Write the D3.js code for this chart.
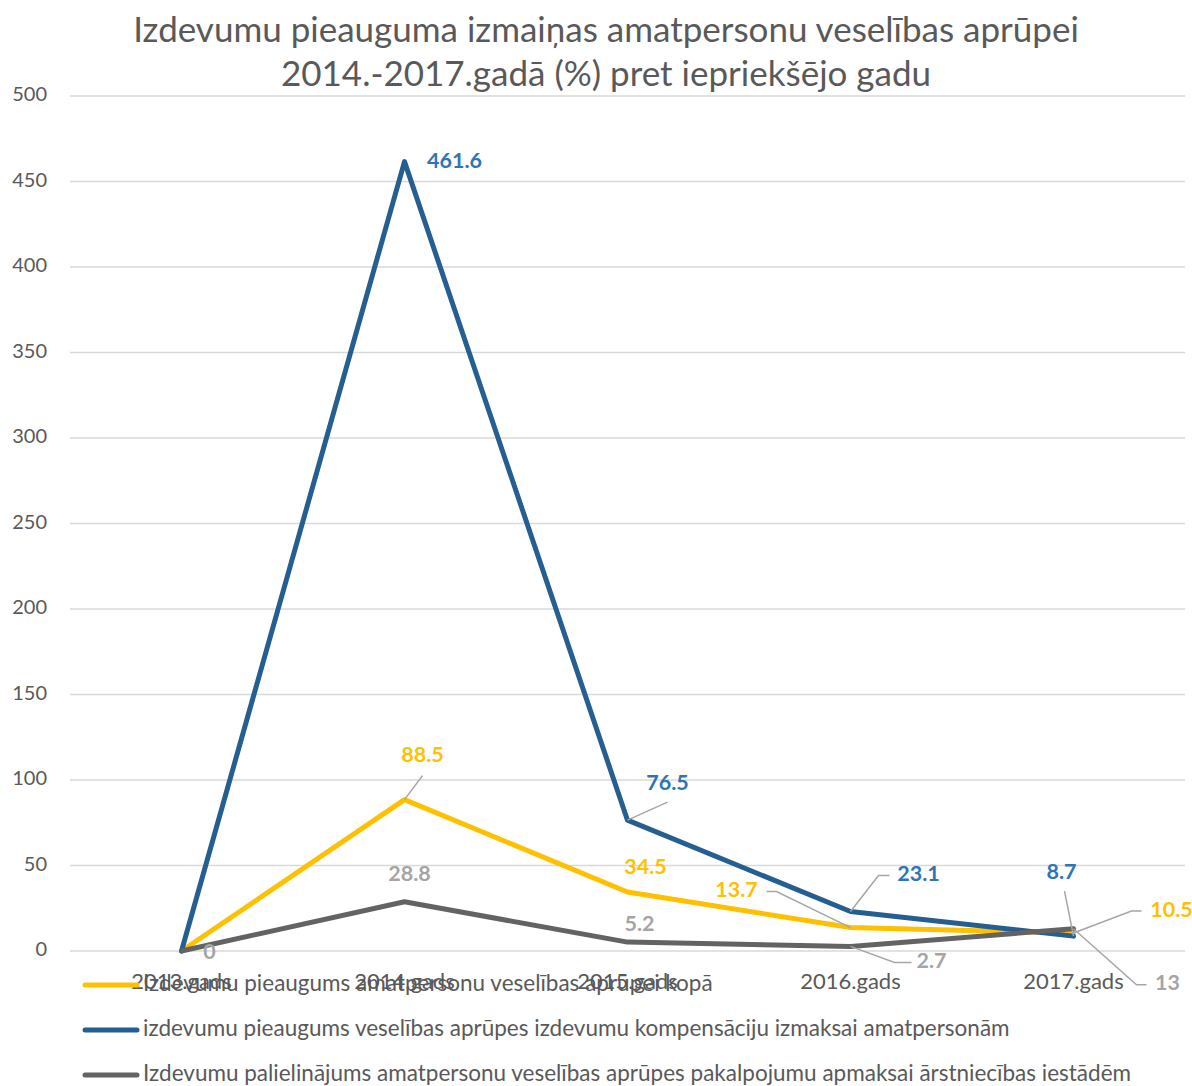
<!DOCTYPE html>
<html>
<head>
<meta charset="utf-8">
<script src="https://cdn.jsdelivr.net/npm/d3@7"></script>
<style>
  body { margin: 0; background: #fff; }
  text { font-family: Lato, "Open Sans", sans-serif; }
</style>
</head>
<body>
<svg class="chart"></svg>
<script>
var categories = ['2013.gads', '2014.gads', '2015.gads', '2016.gads', '2017.gads'];
var seriesNames = [
  'Izdevumu pieaugums amatpersonu veselības aprūpei kopā',
  'izdevumu pieaugums veselības aprūpes izdevumu kompensāciju izmaksai amatpersonām',
  'Izdevumu palielinājums amatpersonu veselības aprūpes pakalpojumu apmaksai ārstniecības iestādēm'
];
var totalValues = [0, 88.5, 34.5, 13.7, 10.5];
var compensationValues = [0, 461.6, 76.5, 23.1, 8.7];
var clinicValues = [0, 28.8, 5.2, 2.7, 13];
var yTicks = [0, 50, 100, 150, 200, 250, 300, 350, 400, 450, 500];
var titleLines = ['Izdevumu pieauguma izmaiņas amatpersonu veselības aprūpei',
                  '2014.-2017.gadā (%) pret iepriekšējo gadu'];

var lineColors = ['#FFC000', '#255E91', '#636363'];
var labelColors = ['#FFC000', '#2E75B6', '#A5A5A5'];

// label offsets from the point (dx, dy); null = no label shown
// leader: elbow of the leader line, end: where it stops next to the label
var labelLayout = [
  [null, {dx: 18, dy: -43, leader: [18, -24]}, {dx: 18, dy: -24}, {dx: -114, dy: -36, leader: [-74, -36], end: [-84, -36]}, {dx: 98, dy: -22, leader: [58, -22], end: [68, -22]}],
  [null, {dx: 50, dy: 1}, {dx: 40, dy: -36, leader: [40, -18]}, {dx: 68, dy: -36, leader: [28, -36], end: [39, -36]}, {dx: -12, dy: -63, leader: [-9, -45]}],
  [{dx: 28, dy: 2}, {dx: 5, dy: -26}, {dx: 12, dy: -17}, {dx: 81, dy: 16, leader: [44, 16], end: [61, 16]}, {dx: 94, dy: 56, leader: [63, 56], end: [73, 56]}]
];

var width = 1192;
var height = 1086;

var svg = d3.select('.chart').attr('width', width).attr('height', height);

var x = d3.scalePoint().domain(categories).range([70, 1185]).padding(0.5);
var y = d3.scaleLinear().domain([0, 500]).range([951, 96]);

// title
svg.selectAll('text.title')
    .data(titleLines)
    .join('text')
    .attr('class', 'title')
    .attr('x', 606)
    .attr('y', (d, i) => 33 + i * 44)
    .attr('text-anchor', 'middle')
    .attr('dominant-baseline', 'middle')
    .style('font-size', '35px')
    .style('fill', '#595959')
    .text(d => d);

// gridlines + y labels
svg.selectAll('line.grid')
    .data(yTicks)
    .join('line')
    .attr('class', 'grid')
    .attr('x1', 70).attr('x2', 1185)
    .attr('y1', d => y(d)).attr('y2', d => y(d))
    .style('stroke', '#D9D9D9')
    .style('stroke-width', 1.5);

svg.selectAll('text.ytick')
    .data(yTicks)
    .join('text')
    .attr('class', 'ytick')
    .attr('x', 47)
    .attr('y', d => y(d))
    .attr('text-anchor', 'end')
    .attr('dominant-baseline', 'middle')
    .style('font-size', '20px')
    .style('fill', '#595959')
    .text(d => d);

// x labels
svg.selectAll('text.xtick')
    .data(categories)
    .join('text')
    .attr('class', 'xtick')
    .attr('x', d => x(d))
    .attr('y', 983)
    .attr('text-anchor', 'middle')
    .attr('dominant-baseline', 'middle')
    .style('font-size', '22px')
    .style('fill', '#595959')
    .text(d => d);

var allSeries = [totalValues, compensationValues, clinicValues];

var line = d3.line()
    .x((d, i) => x(categories[i]))
    .y(d => y(d));

svg.selectAll('path.series')
    .data(allSeries)
    .join('path')
    .attr('class', 'series')
    .attr('d', d => line(d))
    .style('fill', 'none')
    .style('stroke', (d, i) => lineColors[i])
    .style('stroke-width', 5)
    .style('stroke-linejoin', 'round')
    .style('stroke-linecap', 'round');

// data labels
allSeries.forEach(function(values, s) {
  values.forEach(function(v, i) {
    var lay = labelLayout[s][i];
    if (!lay) return;
    var px = x(categories[i]);
    var py = y(v);
    if (lay.leader) {
      var pts = [[px, py], [px + lay.leader[0], py + lay.leader[1]]];
      if (lay.end) pts.push([px + lay.end[0], py + lay.end[1]]);
      svg.append('path')
          .attr('d', d3.line()(pts))
          .style('fill', 'none')
          .style('stroke', '#A6A6A6')
          .style('stroke-width', 1.5);
    }
    svg.append('text')
        .attr('x', px + lay.dx)
        .attr('y', py + lay.dy)
        .attr('text-anchor', 'middle')
        .attr('dominant-baseline', 'middle')
        .style('font-size', '21.5px')
        .style('font-weight', 'bold')
        .style('fill', labelColors[s])
        .text(v);
  });
});

// legend
var legend = svg.selectAll('g.legend')
    .data(seriesNames)
    .join('g')
    .attr('class', 'legend')
    .attr('transform', (d, i) => 'translate(0,' + (985 + i * 45) + ')');

legend.append('line')
    .attr('x1', 85).attr('x2', 137)
    .attr('y1', 0).attr('y2', 0)
    .style('stroke', (d, i) => lineColors[i])
    .style('stroke-width', 5)
    .style('stroke-linecap', 'round');

legend.append('text')
    .attr('x', 143)
    .attr('y', 0)
    .attr('dominant-baseline', 'middle')
    .style('font-size', '22.5px')
    .style('fill', '#595959')
    .text(d => d);
</script>
</body>
</html>
